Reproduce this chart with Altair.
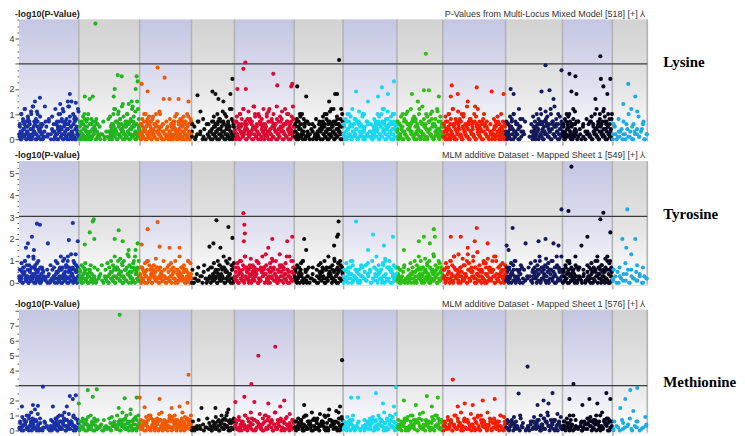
import altair as alt
import pandas as pd

# ---------------- data ----------------
chrom_names = [f"Chr{i}" for i in range(1, 13)]
chrom_len = [60, 61, 52, 43, 60, 49, 54, 46, 63, 57, 50, 35]
chrom_colors = ["#1a32a6", "#22b422", "#f05a00", "#111111", "#dc0a32", "#0a0a0a",
                "#18d8f0", "#2cbe14", "#f51e00", "#141a5a", "#08081e", "#1eaae6"]

traits = ["Lysine", "Tyrosine", "Methionine"]
model_titles = ["P-Values from Multi-Locus Mixed Model [518] [+] \u2144",
                "MLM additive Dataset - Mapped Sheet 1 [549] [+] \u2144",
                "MLM additive Dataset - Mapped Sheet 1 [576] [+] \u2144"]
y_title = "-log10(P-Value)"
y_max = [4.76, 5.55, 8.07]
y_min = [-0.08, -0.09, -0.13]
threshold = [3.0, 3.03, 3.0]
y_labels = [[0, 1, 2, 4], [0, 1, 2, 3, 4, 5], [0, 1, 2, 4, 5, 6, 7]]
minor_step = [0.25, 0.25, 0.5]

# dense SNP clouds: one letter per marker, a=0.0, b=0.1, ... ('.' = no marker)
lys_cloud = [
    "cfakdbhegmcadfibhaekcbnfdgaclhbedjafcgb.d..f.b.h..c.e..adb.gcfahdkbecmafgdbiaecnhbfdacgbjeafdcl",
    "bfdahcgbkedaficbqdagbhcfeaidgcbfa..c..b..d.....bfdagcmbedhakfcibgeodcahfbkdgcaiebnhfcadgbmfe",
    "dagcfbkedhaicgbfeadjcbgfahdcekbfagd.c.b.fa.dcgbeafhcdkbagecfidbhagecbfjdach",
    "d..f.b..h.c..a.e..g..b.d.ahcfbdgeaicfbhdkaecgbfdmahc",
    "ebhcfakdgbmcefaidbhcgeankbfdcjhaedgcbfkdamechbgfdaicebhdlfacgbkedfahcnb",
    "dfbhcaekgbdcifah.dbgc.e.a.fc.bd.g.a.ehcfbdkagcebmfdhacgbiedfcmah",
    "cfadhbekcgafbdicehagbfcdkaefbhcg.d.b.afcdgbehacfkbdmgcaeifbdhcgakebf",
    "ebgcfadhckbeafgdibchafemdbgcafkbdhecigabfdlcehbg",
    "cfbhdakegcbmfaidcgebhafkdcbgeaidhfcbnagecfbdhakgcfeb.d.a.cfbgdhaecfbdac",
    "dbgcfahekbdcgafib.dch.......bfdacgebhkdafcigbedmahcfbgdkaecf",
    "cfadhbgekcbfaidgch.b.e.a.f..d.c.gb.ha.fd.cebgakfdhcmbegafcidbk",
    "c.f.a.db.e.c.ag.b.d.fa.c.e.b.d.g.a.c",
]
lys_cloud2 = [
    "bdacebfadcgbaedhcafbedca.b..c..a.d.bcaedfbhacdbegacfdbiaecb",
    "adbceafbdcagbecdhab..c...a..bdacebfdhacgbedafcbhdaecfbgdacbe",
    "cabdeafcbdhacebgdafcb.d.a.ecbdafcgbeadcbhafdceabdgc",
    "b..a.c..d..b.a.cbdaecfbdahcebdgacfbeadcbf",
    "dacbeafcbdgaecbhdafcebdacgbfdaecbhdcafbegdacbfeadcgbhacedbf",
    "bdacfbecadgb.c.a..d.b.acbedfacgbdeahcbfdacebgdafc",
    "cbdaecfbadgcbeahdcfbda.c.b.dacebfdgacbhedafcbgdaecbfd",
    "dacbefadcbgaedchbafdcebadgcfbeadhcbfagdcebadfc",
    "bdaecfbadcgbeadfhcbaedcfbgadcebhafdcbeagdfcb.a.cdbeafcgbdaecbf",
    "cadbefcadbgceafd.c.....b.dacebfdagcbeadhcfbdaegcbfdacebg",
    "dbacefbdagcbedah.c..b.a.d.cb.adcebfadgcbehadfcbea",
    "a.c.b.d.a.c.e.b.a.d.c.b.e.a.c",
]
lys_cloud3 = [
    "gkimhjglnhik.g..h.i.jgmhkoilhgnjpkhim",
    "hgjihkgi..g...h..ijgkmhlinjgkohmjlpi",
    "gihkgjhigkhl.g.h.ighjkhigjhkgi",
    "g..h..i..g.hjgkihlgjhmig",
    "hjgkimhglihnjgkhimgjlhikgnhjigmhkgji",
    "gihjkg.h..g.i.hgjkihlgmhjgik",
    "gikhjmgihlgjk.h.g.ihkjgmhilgjkhg",
    "hgjkihlgmhjigkhnigjhklgimhjg",
    "gjhkimghlikjgnhigkjmhgi.h.g.ihjgkhg",
    "hgjikhgm.i....gjhkimghljgkhnigjh",
    "gikjhgml.h..g.i.hjgkmhigljhkgi",
    "g.i.h.k.g.j.h.",
]
tyr_cloud = [
    "dbgcfahekbdcgaifbdhcmaegbfdkcahebgfd.c..a.e.b..g.d.c.fa.bdhcgakebfdicmahfbgedkcbnfahd",
    "cfbdahcgbedaficb.d.a.gc.e.b..d...a..cfbdhagckebfdiacgbhemfdacbkgefhbd",
    "ebhcfadgkbceafidbhcgaefbkdcahfbdg.c.a.ebf.hdcgbafkdce",
    "c.a..e.b..d.f..a.c.h.bd.cfaeidbgchakfdbecgaj",
    "dfbhakcegbmdfcaihbegdfkacbhfdgenbacfhdkgebcafidbhgcemafdcbkh",
    "cfbhdagekcbfadh.c.e.b.a..fd.gc.ahbdfecgbkdahfcibe",
    "dbgfachekbdcfagbid.c.be.fa.chdgbefcaidkbhcgfaebdh",
    "cebgadfhbc.a.dc.e.afbgdhckaebfgdicahbfemcdgakbfhe",
    "dgbhcfakebmdcgafhdbiceangbfdkchaegbfdcjahebgfckdamcbhefgdai",
    "cfbhdaegkcbdfaihcgb.d...bfdhcagekbfcdiahbgekcfadmbhcgf",
    "dfbhcagkebdfcaihbgdc.a.e.b.fd.cg.ahbfdkecgaidbfhcmagkdb",
    "b.d.fa.c.e.b.ga.d.c.fb.e.a.d.c",
]
tyr_cloud2 = [
    "cbdaefcbdagcbedhacfbda.c..b.d.a.cbdaecfbgadcebhafcdbeagcfbd",
    "bdacefbcadgbeac.b..d...a.cbdaefcbgadhcebfadcgbeadcfbhaecbd",
    "dacbefdacbgdaecfbhadcebd.a.c.bdaefcbgadcebhfacdbeac",
    "a..c.b..d.a..c.b.dacebfdagcbedhafcbdeagcb",
    "cbdaefcbdahcgbedafcbdegacbfdhaecbdafcgbedacbhfdaecbgdacfbe",
    "dbacefdbacgbd.a.c.b..dacebfdagcbehdacfbdeagcbf",
    "acbdfecabdgcbeadhcfb.d.a.cbedafcgbdaecbhafdcbe",
    "bdac.b.a.cdbeafcbdagcebdhacfbedacgbfdaecbhd",
    "cdabefcbdahgcebdafcbedagcbhfdacebdgafcbeadhcbfgdaecbdafcbe",
    "bdacefbdagcbe.a...c.dbacefdbgachebdfacgbdeahcfbd",
    "adbcefadbgcebdahc.b.d.a.cbdaefcbgdahecbfdacgbeadf",
    "c.a.d.b.e.a.c.b.d.a.c",
]
tyr_cloud3 = [
    "gjhkimghlijg.h..g.i.hkjgmhlikgnhjig",
    "gihj.g..h...i.gjhkimhgljkgnihjmgk",
    "hgjkihgl.h.g.ijhkgmhigkj",
    "g..h..i.g.hjgkihmgjlih",
    "hjgkimhglihkjgmhigjlhkgnihjgmkh",
    "gihjk.g..h.gijhkgmhilgjkh",
    "gjhki.g.h.ijgkhmigjlhkgih",
    "hg.i.gjhkimghljkgnihjg",
    "gjhkimgnhlikjgmhoigkjlhgmkhijg",
    "hgjik.g...hjgkimhgljgkhigm",
    "gikjhgm.h.g.ihjgkmhiglkjh",
    "g.h.j.g.i.h.",
]
met_cloud = [
    "cfbdahegcbkdfaichbgdea.b.c.f.d..a.bgcfdhaekbcgfidahcbegfdkbachf",
    "dbgcfahecbdfaigbhcdea.c.b..f..d.bcegafdhbkcfgdaeibhcf",
    "ebcfgadhbkcedafigbhcaefdbgkcahdfbegcaidfbhcegk",
    "c.a.d..b.e.c..f.a.dbcgaefhbdkcgafbi",
    "dfbhcagekbdcfiahbgdecafkbhdgcaembfdhcgaiebfdhc",
    "cgbfdhaekcbgfdaichbedgfkacbhdgefcbmadh",
    "dbfcgaehcbdf.a.c.e.bgdfachbeidgcfahbkdcgfe",
    "cebfdgahcbekdfgaichbdegfacbhdkegcf",
    "dfbhcgaekbdfcaihgbdecafkbhdgcaeibfhdcgkbae",
    "cfbdhaegcbkdf.a.c..bgdfhcaeibgkdcfhabegdc",
    "dgbfcahekbd.c.fa.e.b.dgcfhaebkdcgfiahbd",
    "b.d.a.fc.e.b.dg.a.c.e",
]
met_cloud2 = [
    "bcadefbcadgbechadbf.a.c..b.dacebfadcgbehadcfbgeadcbf",
    "adcbefadbcgeadb.c..a.d.cbadfecbgadhcebfadcgbeadc",
    "cbdaefcbadgbceahdfcbeadgcbfhadcebgadcfbe",
    "a.c.b.d..a.c.bdacefbdagcbehdafcbg",
    "dbcaefdbcagdbehacfdbeagcbdfhaecbdgacfbedacbf",
    "cadbefcadbgecahdbfcaegdbcfahdebcgafdbe",
    "bdacefbda.c.b.dacgebfhadcbegdafcbehdcab",
    "cbdaefcbadgcebhafdcbeagdcbfhadecbga",
    "adcbefadcbgeadhcbfdaecgbdafhcebdgacfbeadcbg",
    "cbadefcbd.a.c..bdaegcfbdhaecbgfdacebhdafcb",
    "bdacefbda.c.b.dacgbefhdacbegfdacbhedfacg",
    "a.c.b.d.a.c.b.d",
]
met_cloud3 = [
    "gjhkimghli.g..h.ijgkmhlgjih",
    "gihjk.g..h.ijgkhmiglhjk",
    "hgjkihglmhgijkhgmjih",
    "g.h..i.gjhkimhg",
    "hjgkimhglikjgmhigjlh",
    "gihjkgmhilgjkhgnij",
    "gjhk.g.h.ijgkhmigjl",
    "hgijkhglmhgjkih",
    "gjhkimghlijkgmhigkj",
    "hgj.i..gjhkimhglj",
    "gik.h.g.ijhkgmhig",
    "g.h.i.g.j",
]

# individually read markers (genome position, -log10 p)
lys_pos = [16, 21, 26, 51, 49, 57,
           76.7, 66, 74, 95, 96, 99, 103, 118, 119, 117, 113,
           123, 129, 139, 146, 145, 151, 160, 170,
           179, 182, 194, 197, 200, 214, 212, 205,
           227, 225, 219, 227.5, 255, 259, 274, 273,
           279, 288, 317, 319, 321, 311,
           338, 364, 376, 360, 370, 350,
           408, 394, 406, 411, 421, 400,
           434, 433, 440, 459, 474, 486, 450,
           493, 496, 528, 544, 524, 532, 536,
           552, 558, 554, 559, 583, 583.5, 586, 593, 578, 590,
           611, 618, 606, 614, 620]
lys_val = [1.5, 1.65, 1.3, 1.8, 1.5, 1.45,
           4.6, 1.7, 1.7, 1.7, 2.0, 2.55, 2.5, 2.5, 2.3, 2.0, 1.5,
           2.2, 1.9, 2.85, 2.45, 1.6, 1.6, 1.6, 1.5,
           1.75, 1.1, 1.9, 1.8, 1.6, 2.4, 1.8, 1.5,
           3.05, 2.8, 2.0, 2.0, 2.6, 2.14, 2.2, 2.1,
           2.1, 1.7, 1.8, 1.8, 3.15, 1.5,
           1.9, 2.06, 2.3, 1.7, 1.8, 1.5,
           3.4, 1.8, 1.95, 1.95, 1.7, 1.5,
           2.14, 1.7, 1.8, 2.06, 1.9, 1.8, 1.5,
           2.0, 1.8, 2.94, 2.74, 1.9, 1.95, 1.6,
           2.6, 2.5, 1.9, 1.8, 3.3, 2.4, 2.1, 2.4, 1.6, 1.8,
           2.2, 1.7, 1.4, 1.2, 1.1]

tyr_pos = [18, 21, 13, 9, 7, 29, 54, 50, 59, 15,
           75, 74, 71, 75.5, 66, 100, 96, 104, 119, 117, 110,
           139, 129, 123, 141, 161, 151,
           191, 195, 198, 210, 214, 202,
           225, 226, 226.5, 225.5, 254, 269, 274, 250,
           286, 320, 320.5, 319, 316, 288,
           338, 355, 375, 366, 350,
           386, 416, 417, 406, 401, 412,
           433, 443, 459, 457, 470, 450,
           489, 495, 491, 508, 528, 521, 536, 541,
           544, 551, 554, 583, 586, 593, 570, 564,
           610, 605, 618, 609, 614]
tyr_val = [2.7, 2.65, 2.1, 1.8, 1.6, 1.8, 2.73, 1.95, 1.9, 1.5,
           2.9, 2.8, 2.3, 2.0, 1.75, 2.4, 2.0, 1.9, 1.8, 1.5, 1.5,
           2.77, 2.45, 1.75, 1.65, 1.6, 1.6,
           1.65, 1.8, 2.85, 2.55, 2.05, 1.6,
           3.18, 2.65, 2.25, 1.9, 2.0, 1.9, 2.1, 1.6,
           2.0, 2.2, 2.8, 2.1, 1.7, 1.5,
           2.8, 2.2, 2.1, 1.7, 1.5,
           1.5, 2.45, 2.1, 2.1, 1.9, 1.8,
           2.1, 2.1, 2.5, 1.9, 1.8, 1.6,
           1.7, 2.5, 1.5, 1.8, 2.0, 1.9, 1.8, 1.7,
           3.35, 3.28, 5.3, 2.9, 3.2, 2.3, 2.1, 1.7,
           3.35, 2.0, 2.0, 1.6, 1.3]

met_pos = [24, 3, 14, 19, 16, 34, 51, 57, 54, 60, 48,
           69, 78, 74, 101, 106, 118, 121, 100, 112,
           126, 141, 170, 169, 161, 153,
           183, 197, 217, 210,
           226, 233, 240, 257, 236, 250, 262, 266,
           324, 286, 322, 311,
           333, 340, 358, 378, 376, 365,
           386, 409, 420, 398, 414,
           435, 477, 465, 447, 455, 440,
           501, 510, 531, 535, 526, 520,
           556, 552, 572, 589, 593, 580, 565,
           620, 613, 608, 603, 616]
met_val = [2.93, 1.6, 1.7, 1.65, 1.4, 1.6, 2.3, 2.35, 2.1, 1.8, 1.6,
           2.7, 2.75, 2.25, 7.73, 2.15, 2.2, 2.2, 1.5, 1.4,
           1.55, 2.1, 3.73, 1.85, 1.6, 1.5,
           1.5, 1.5, 1.9, 1.4,
           2.25, 3.1, 5.0, 5.6, 1.9, 1.8, 1.6, 2.0,
           4.7, 1.7, 1.6, 1.4,
           2.2, 2.2, 2.5, 2.9, 1.6, 1.8,
           2.0, 2.3, 2.2, 1.7, 1.6,
           3.4, 2.1, 2.0, 1.8, 1.7, 1.6,
           2.47, 4.27, 1.8, 2.5, 2.0, 1.7,
           3.1, 2.1, 2.1, 2.5, 2.1, 1.8, 1.7,
           2.85, 2.7, 2.1, 1.5, 1.3]

clouds = [(lys_cloud, lys_cloud2, lys_cloud3),
          (tyr_cloud, tyr_cloud2, tyr_cloud3),
          (met_cloud, met_cloud2, met_cloud3)]
peaks = [(lys_pos, lys_val), (tyr_pos, tyr_val), (met_pos, met_val)]

# ---------------- helpers ----------------
starts = []
acc = 0
for L in chrom_len:
    starts.append(acc)
    acc += L
genome_len = acc
bounds = starts[1:] + [genome_len]


def chrom_of(pos):
    for i, s in enumerate(starts):
        if s <= pos < s + chrom_len[i]:
            return i
    return len(starts) - 1


def marker_table(k):
    rows = []
    for strings in clouds[k]:
        for c, s in enumerate(strings):
            n = len(s)
            for i, ch in enumerate(s):
                if ch == ".":
                    continue
                rows.append({"pos": starts[c] + (i + 0.5) / n * chrom_len[c],
                             "val": (ord(ch) - 97) / 10.0, "chrom": chrom_names[c]})
    for p, v in zip(*peaks[k]):
        rows.append({"pos": p, "val": v, "chrom": chrom_names[chrom_of(p)]})
    return pd.DataFrame(rows)


blue_grad = alt.LinearGradient(gradient="linear", x1=0, x2=0, y1=0, y2=1, stops=[
    alt.GradientStop(offset=0, color="#c4c6e2"),
    alt.GradientStop(offset=0.55, color="#e0e0f0"),
    alt.GradientStop(offset=1, color="#ffffff")])
gray_grad = alt.LinearGradient(gradient="linear", x1=0, x2=0, y1=0, y2=1, stops=[
    alt.GradientStop(offset=0, color="#d2d2d2"),
    alt.GradientStop(offset=0.55, color="#e4e4e4"),
    alt.GradientStop(offset=1, color="#ffffff")])

band_df = pd.DataFrame({"start": starts, "end": bounds,
                        "kind": ["b" if i % 2 == 0 else "g" for i in range(12)]})
bound_df = pd.DataFrame({"b": bounds})

W = 630
heights = [122, 124, 123]
label_y = [43, 53, 72]


def panel(k):
    H = heights[k]
    xs = alt.Scale(domain=[0, genome_len], nice=False, zero=False, padding=0)
    ys = alt.Scale(domain=[y_min[k], y_max[k]], nice=False, zero=False)
    n_minor = int(round((y_max[k] - 0.01) / minor_step[k]))
    yvals = [round(i * minor_step[k], 3) for i in range(0, n_minor + 1)]
    lab_test = " || ".join(f"datum.value === {v}" for v in y_labels[k])
    yaxis = alt.Axis(values=yvals, title=None, domain=False, grid=False,
                     labelExpr=f"({lab_test}) ? format(datum.value, 'd') : ''",
                     labelOverlap=False, labelFontSize=9, labelColor="#333333",
                     labelFont="Liberation Sans", labelPadding=1,
                     tickColor="#555555",
                     tickSize={"condition": {"test": "datum.value % 1 === 0", "value": 4}, "value": 2})
    xaxis = alt.Axis(values=bounds[:-1], title=None, labels=False, domain=False, grid=False,
                     tickColor="#aaaaaa", tickSize=4, tickWidth=1.5)

    bands_b = alt.Chart(band_df).transform_filter("datum.kind === 'b'").mark_rect(fill=blue_grad).encode(
        x=alt.X("start:Q", scale=xs, axis=xaxis), x2="end:Q",
        y=alt.value(0), y2=alt.value(H))
    bands_g = alt.Chart(band_df).transform_filter("datum.kind === 'g'").mark_rect(fill=gray_grad).encode(
        x=alt.X("start:Q", scale=xs), x2="end:Q",
        y=alt.value(0), y2=alt.value(H))
    brules = alt.Chart(bound_df).mark_rule(color="#b2b2b2", strokeWidth=1.5).encode(
        x=alt.X("b:Q", scale=xs), y=alt.value(0), y2=alt.value(H))
    thr = alt.Chart(pd.DataFrame({"t": [threshold[k]]})).mark_rule(color="#3a3a3a", strokeWidth=1.3).encode(
        y=alt.Y("t:Q", scale=ys, axis=yaxis))
    pts = alt.Chart(marker_table(k)).mark_circle(size=17, opacity=1).encode(
        x=alt.X("pos:Q", scale=xs),
        y=alt.Y("val:Q", scale=ys, axis=yaxis),
        color=alt.Color("chrom:N", scale=alt.Scale(domain=chrom_names, range=chrom_colors), legend=None))
    t_left = alt.Chart(pd.DataFrame({"t": [y_title]})).mark_text(
        align="left", baseline="middle", font="Liberation Sans", fontSize=9, fontWeight="bold",
        color="#222222").encode(x=alt.value(-4), y=alt.value(-6), text="t:N")
    t_right = alt.Chart(pd.DataFrame({"t": [model_titles[k]]})).mark_text(
        align="right", baseline="middle", font="Liberation Sans", fontSize=9,
        color="#333333").encode(x=alt.value(628), y=alt.value(-6), text="t:N")
    t_trait = alt.Chart(pd.DataFrame({"t": [traits[k]]})).mark_text(
        align="left", baseline="middle", font="Liberation Serif", fontSize=15, fontWeight="bold",
        color="#000000").encode(x=alt.value(646), y=alt.value(label_y[k]), text="t:N")
    return alt.layer(bands_b, bands_g, brules, thr, pts, t_left, t_right, t_trait).properties(
        width=W, height=H)


top = alt.vconcat(panel(0), panel(1), spacing=3)
chart = alt.vconcat(top, panel(2), spacing=8).properties(
    padding={"left": 0, "top": 0, "right": 0, "bottom": 0}
).configure_view(stroke=None).configure(background="white")

chart.save("out.html", embed_options={"renderer": "svg", "actions": False})
